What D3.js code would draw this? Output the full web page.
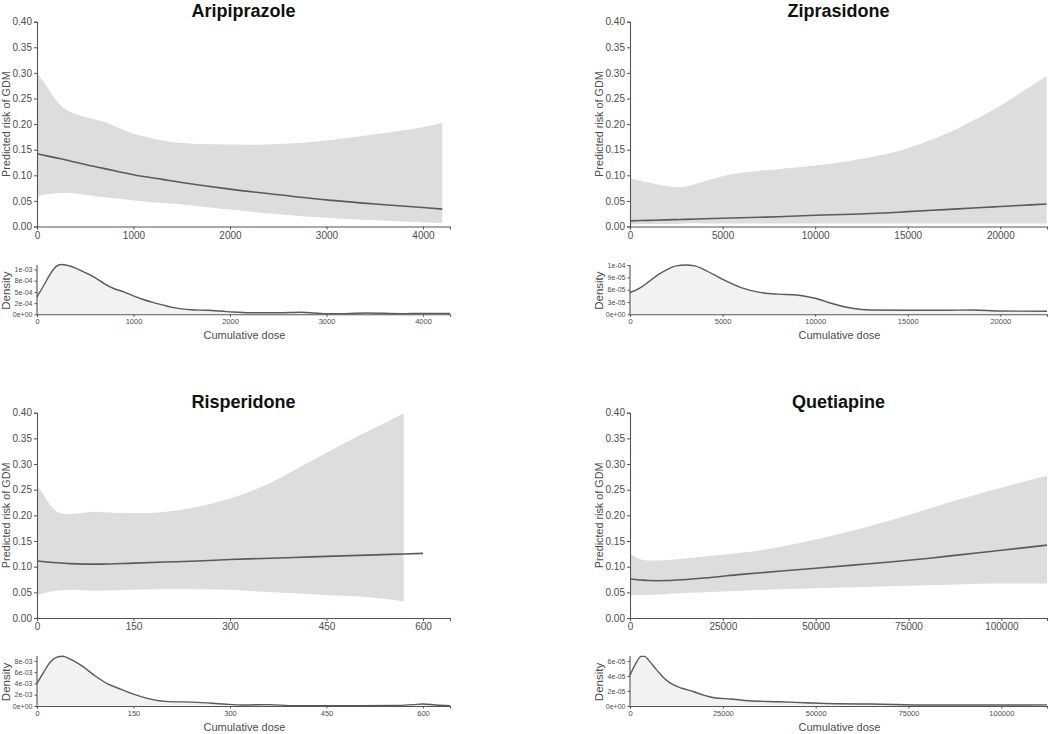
<!DOCTYPE html>
<html>
<head>
<meta charset="utf-8">
<script src="https://cdn.jsdelivr.net/npm/d3@7"></script>
<style>
html,body{margin:0;padding:0;background:#fff;}
svg{display:block;}
text{font-family:"Liberation Sans",Arial,Helvetica,sans-serif;}
</style>
</head>
<body>
<svg id="chart" width="1050" height="734"></svg>
<script>
// ---------- DATA ----------
const titles = ["Aripiprazole", "Ziprasidone", "Risperidone", "Quetiapine"];
const yLabelMain = "Predicted risk of GDM";
const yLabelDens = "Density";
const xLabel = "Cumulative dose";
const riskTicks = [0, 0.05, 0.10, 0.15, 0.20, 0.25, 0.30, 0.35, 0.40];

// Aripiprazole
const ariBandDose = [0, 100, 200, 300, 500, 700, 1000, 1300, 1500, 2000, 2500, 3000, 3500, 4000, 4200];
const ariUpper = [0.300, 0.274, 0.246, 0.228, 0.214, 0.204, 0.181, 0.168, 0.163, 0.160, 0.161, 0.168, 0.180, 0.194, 0.202];
const ariLower = [0.060, 0.063, 0.065, 0.066, 0.062, 0.057, 0.051, 0.046, 0.043, 0.033, 0.024, 0.017, 0.012, 0.008, 0.007];
const ariFitDose = ariBandDose;
const ariFit = [0.142, 0.138, 0.134, 0.130, 0.121, 0.113, 0.101, 0.092, 0.086, 0.073, 0.062, 0.052, 0.044, 0.037, 0.034];
const ariDensDose = [0, 50, 100, 150, 200, 250, 300, 400, 500, 600, 700, 800, 900, 1000, 1100, 1200, 1300, 1400, 1500, 1600, 1760, 1970, 2210, 2500, 2730, 3000, 3200, 3420, 3770, 4080, 4280];
const ariDens = [3.9e-4, 5.7e-4, 7.6e-4, 9.4e-4, 1.07e-3, 1.11e-3, 1.10e-3, 1.03e-3, 9.3e-4, 8.2e-4, 6.8e-4, 5.7e-4, 5.0e-4, 4.1e-4, 3.3e-4, 2.65e-4, 2.1e-4, 1.55e-4, 1.2e-4, 1.0e-4, 9.0e-5, 6.0e-5, 3.5e-5, 3.5e-5, 4.5e-5, 1.5e-5, 1.5e-5, 3.0e-5, 1.5e-5, 2.0e-5, 2.0e-5];
const ariXMax = 4280;
const ariXTicks = [0, 1000, 2000, 3000, 4000];
const ariDensMax = 1.1e-3;
const ariDensTicks = [0, 2.5e-4, 5e-4, 7.5e-4, 1e-3];
const ariDensLabels = ["0e+00", "2e-04", "5e-04", "8e-04", "1e-03"];

// Ziprasidone
const zipBandDose = [0, 1000, 2000, 2500, 3000, 4000, 5000, 6000, 7000, 8000, 10000, 12000, 14000, 15000, 17000, 19000, 20000, 21000, 22500];
const zipUpper = [0.094, 0.086, 0.079, 0.077, 0.078, 0.088, 0.098, 0.105, 0.109, 0.112, 0.119, 0.129, 0.143, 0.153, 0.180, 0.216, 0.236, 0.259, 0.294];
const zipLower = [0.004, 0.005, 0.005, 0.005, 0.006, 0.006, 0.006, 0.006, 0.006, 0.006, 0.006, 0.006, 0.006, 0.006, 0.006, 0.006, 0.006, 0.006, 0.006];
const zipFitDose = zipBandDose;
const zipFit = [0.011, 0.012, 0.013, 0.0135, 0.014, 0.015, 0.016, 0.017, 0.018, 0.019, 0.022, 0.024, 0.027, 0.029, 0.033, 0.037, 0.039, 0.041, 0.044];
const zipDensDose = [0, 500, 1000, 1500, 2000, 2500, 3000, 3500, 4000, 5000, 6000, 7000, 8000, 9000, 10000, 11000, 12000, 13000, 15000, 17000, 18500, 20000, 22520];
const zipDens = [5.3e-5, 6.3e-5, 7.9e-5, 9.6e-5, 1.09e-4, 1.18e-4, 1.2e-4, 1.18e-4, 1.09e-4, 8.5e-5, 6.5e-5, 5.35e-5, 4.9e-5, 4.7e-5, 3.9e-5, 2.5e-5, 1.46e-5, 1.05e-5, 9.7e-6, 9.7e-6, 1.05e-5, 8.1e-6, 7.3e-6];
const zipXMax = 22520;
const zipXTicks = [0, 5000, 10000, 15000, 20000];
const zipDensMax = 1.2e-4;
const zipDensTicks = [0, 3e-5, 6e-5, 9e-5, 1.2e-4];
const zipDensLabels = ["0e+00", "3e-05", "6e-05", "9e-05", "1e-04"];

// Risperidone
const risBandDose = [0, 10, 20, 30, 40, 50, 70, 90, 120, 150, 200, 250, 300, 350, 400, 450, 500, 550, 570];
const risUpper = [0.259, 0.240, 0.221, 0.208, 0.203, 0.202, 0.205, 0.207, 0.205, 0.204, 0.207, 0.217, 0.233, 0.256, 0.288, 0.322, 0.355, 0.386, 0.399];
const risLower = [0.044, 0.048, 0.051, 0.053, 0.054, 0.055, 0.054, 0.053, 0.054, 0.055, 0.056, 0.056, 0.055, 0.051, 0.048, 0.045, 0.042, 0.036, 0.032];
const risFitDose = [0, 25, 50, 75, 100, 150, 200, 250, 300, 350, 400, 450, 500, 550, 600];
const risFit = [0.111, 0.108, 0.106, 0.105, 0.105, 0.107, 0.109, 0.111, 0.114, 0.116, 0.118, 0.120, 0.122, 0.124, 0.126];
const risDensDose = [0, 10, 20, 30, 40, 50, 70, 90, 110, 130, 150, 170, 200, 250, 290, 320, 360, 400, 450, 500, 560, 585, 600, 620, 642];
const risDens = [4.0e-3, 5.9e-3, 7.7e-3, 8.6e-3, 8.8e-3, 8.4e-3, 7.1e-3, 5.35e-3, 3.9e-3, 3.0e-3, 2.1e-3, 1.4e-3, 8.2e-4, 6.5e-4, 3.5e-4, 1.8e-4, 2.4e-4, 6.0e-5, 6.0e-5, 6.0e-5, 1.0e-4, 2.5e-4, 3.5e-4, 1.8e-4, 6.0e-5];
const risXMax = 642;
const risXTicks = [0, 150, 300, 450, 600];
const risDensMax = 8.85e-3;
const risDensTicks = [0, 2e-3, 4e-3, 6e-3, 8e-3];
const risDensLabels = ["0e+00", "2e-03", "4e-03", "6e-03", "8e-03"];

// Quetiapine
const queBandDose = [0, 3000, 5000, 10000, 20000, 30000, 40000, 50000, 60000, 70000, 80000, 90000, 100000, 112300];
const queUpper = [0.125, 0.114, 0.112, 0.113, 0.120, 0.127, 0.138, 0.153, 0.170, 0.190, 0.212, 0.234, 0.254, 0.277];
const queLower = [0.044, 0.045, 0.045, 0.047, 0.050, 0.053, 0.056, 0.058, 0.060, 0.062, 0.064, 0.066, 0.067, 0.067];
const queFitDose = queBandDose;
const queFit = [0.076, 0.074, 0.073, 0.073, 0.078, 0.085, 0.091, 0.097, 0.103, 0.109, 0.116, 0.124, 0.132, 0.142];
const queDensDose = [0, 1500, 3000, 4000, 5000, 7000, 9000, 11000, 14000, 17000, 20000, 23000, 27000, 32000, 40000, 47000, 55000, 65000, 80000, 100000, 112300];
const queDens = [4.1e-5, 5.6e-5, 6.6e-5, 6.6e-5, 6.1e-5, 4.9e-5, 3.8e-5, 3.0e-5, 2.36e-5, 1.93e-5, 1.41e-5, 1.07e-5, 9.4e-6, 6.9e-6, 5.6e-6, 4.3e-6, 3.0e-6, 2.6e-6, 1.3e-6, 1.3e-6, 1.5e-6];
const queXMax = 112300;
const queXTicks = [0, 25000, 50000, 75000, 100000];
const queDensMax = 6.65e-5;
const queDensTicks = [0, 2e-5, 4e-5, 6e-5];
const queDensLabels = ["0e+00", "2e-05", "4e-05", "6e-05"];

// ---------- LAYOUT ----------
const panels = [
  {title: titles[0], bandDose: ariBandDose, upper: ariUpper, lower: ariLower, fitDose: ariFitDose, fit: ariFit,
   densDose: ariDensDose, dens: ariDens, xMax: ariXMax, xTicks: ariXTicks, densMax: ariDensMax, densTicks: ariDensTicks, densLabels: ariDensLabels,
   left: 37, right: 450, top: 21.7, bottom: 226.5, dTop: 265, dBottom: 314.3},
  {title: titles[1], bandDose: zipBandDose, upper: zipUpper, lower: zipLower, fitDose: zipFitDose, fit: zipFit,
   densDose: zipDensDose, dens: zipDens, xMax: zipXMax, xTicks: zipXTicks, densMax: zipDensMax, densTicks: zipDensTicks, densLabels: zipDensLabels,
   left: 630, right: 1047, top: 21.7, bottom: 226.5, dTop: 265, dBottom: 314.3},
  {title: titles[2], bandDose: risBandDose, upper: risUpper, lower: risLower, fitDose: risFitDose, fit: risFit,
   densDose: risDensDose, dens: risDens, xMax: risXMax, xTicks: risXTicks, densMax: risDensMax, densTicks: risDensTicks, densLabels: risDensLabels,
   left: 37, right: 450, top: 412.7, bottom: 618, dTop: 656, dBottom: 706},
  {title: titles[3], bandDose: queBandDose, upper: queUpper, lower: queLower, fitDose: queFitDose, fit: queFit,
   densDose: queDensDose, dens: queDens, xMax: queXMax, xTicks: queXTicks, densMax: queDensMax, densTicks: queDensTicks, densLabels: queDensLabels,
   left: 630, right: 1047, top: 412.7, bottom: 618, dTop: 656, dBottom: 706}
];

const svg = d3.select("#chart");
const axisCol = "#555";
const labCol = "#4d4d4d";
const smooth = d3.curveCatmullRom.alpha(0.5);

function styleAxis(g, fs) {
  g.select(".domain").attr("stroke", axisCol).attr("stroke-width", 1.1);
  g.selectAll(".tick line").attr("stroke", axisCol).attr("stroke-width", 1);
  g.selectAll(".tick text").attr("fill", labCol).attr("font-size", fs).attr("font-family", '"Liberation Sans",Arial,sans-serif');
}

panels.forEach(p => {
  const g = svg.append("g");
  const x = d3.scaleLinear().domain([0, p.xMax]).range([p.left, p.right]);
  const y = d3.scaleLinear().domain([0, 0.4]).range([p.bottom, p.top]);
  const yd = d3.scaleLinear().domain([0, p.densMax]).range([p.dBottom, p.dTop]);

  // band
  const band = p.bandDose.map((d, i) => ({d, lo: p.lower[i], hi: p.upper[i]}));
  g.append("path").datum(band)
    .attr("fill", "#dddddd")
    .attr("d", d3.area().x(v => x(v.d)).y0(v => y(v.lo)).y1(v => y(v.hi)).curve(smooth));
  // fit line
  const fitPts = p.fitDose.map((d, i) => ({d, v: p.fit[i]}));
  g.append("path").datum(fitPts)
    .attr("fill", "none").attr("stroke", "#5a5a5a").attr("stroke-width", 1.6)
    .attr("d", d3.line().x(v => x(v.d)).y(v => y(v.v)).curve(smooth));

  // main axes
  const ax = g.append("g").attr("transform", `translate(0,${p.bottom})`)
    .call(d3.axisBottom(x).tickValues(p.xTicks).tickSize(3).tickPadding(2).tickFormat(d3.format("d")));
  styleAxis(ax, "10px");
  const ay = g.append("g").attr("transform", `translate(${p.left},0)`)
    .call(d3.axisLeft(y).tickValues(riskTicks).tickSize(3).tickPadding(2).tickFormat(d3.format(".2f")));
  styleAxis(ay, "10px");

  // title
  g.append("text").attr("x", (p.left + p.right) / 2).attr("y", p.top - 4.5)
    .attr("text-anchor", "middle").attr("font-size", "18px").attr("font-weight", "bold").attr("fill", "#111")
    .text(p.title);
  // y label
  g.append("text").attr("transform", `translate(${p.left - 27},${(p.top + p.bottom) / 2}) rotate(-90)`)
    .attr("text-anchor", "middle").attr("font-size", "10.8px").attr("fill", labCol)
    .text(yLabelMain);

  // density
  const densPts = p.densDose.map((d, i) => ({d, v: p.dens[i]}));
  g.append("path").datum(densPts)
    .attr("fill", "#f2f2f2")
    .attr("d", d3.area().x(v => x(v.d)).y0(p.dBottom).y1(v => yd(v.v)).curve(d3.curveMonotoneX));
  g.append("path").datum(densPts)
    .attr("fill", "none").attr("stroke", "#5a5a5a").attr("stroke-width", 1.4)
    .attr("d", d3.line().x(v => x(v.d)).y(v => yd(v.v)).curve(d3.curveMonotoneX));

  const dax = g.append("g").attr("transform", `translate(0,${p.dBottom})`)
    .call(d3.axisBottom(x).tickValues(p.xTicks).tickSize(2.5).tickPadding(2).tickFormat(d3.format("d")));
  styleAxis(dax, "7.5px");
  const day = g.append("g").attr("transform", `translate(${p.left},0)`)
    .call(d3.axisLeft(yd).tickValues(p.densTicks).tickSize(2.5).tickPadding(2).tickFormat((d, i) => p.densLabels[i]));
  styleAxis(day, "7px");
  day.select(".domain").attr("d", `M-0,${p.dTop}V${p.dBottom}`);

  g.append("text").attr("transform", `translate(${p.left - 27},${(p.dTop + p.dBottom) / 2 + 1}) rotate(-90)`)
    .attr("text-anchor", "middle").attr("font-size", "11.5px").attr("fill", labCol)
    .text(yLabelDens);
  g.append("text").attr("x", (p.left + p.right) / 2 + 1).attr("y", p.dBottom + 25)
    .attr("text-anchor", "middle").attr("font-size", "11px").attr("fill", labCol)
    .text(xLabel);
});
</script>
</body>
</html>
